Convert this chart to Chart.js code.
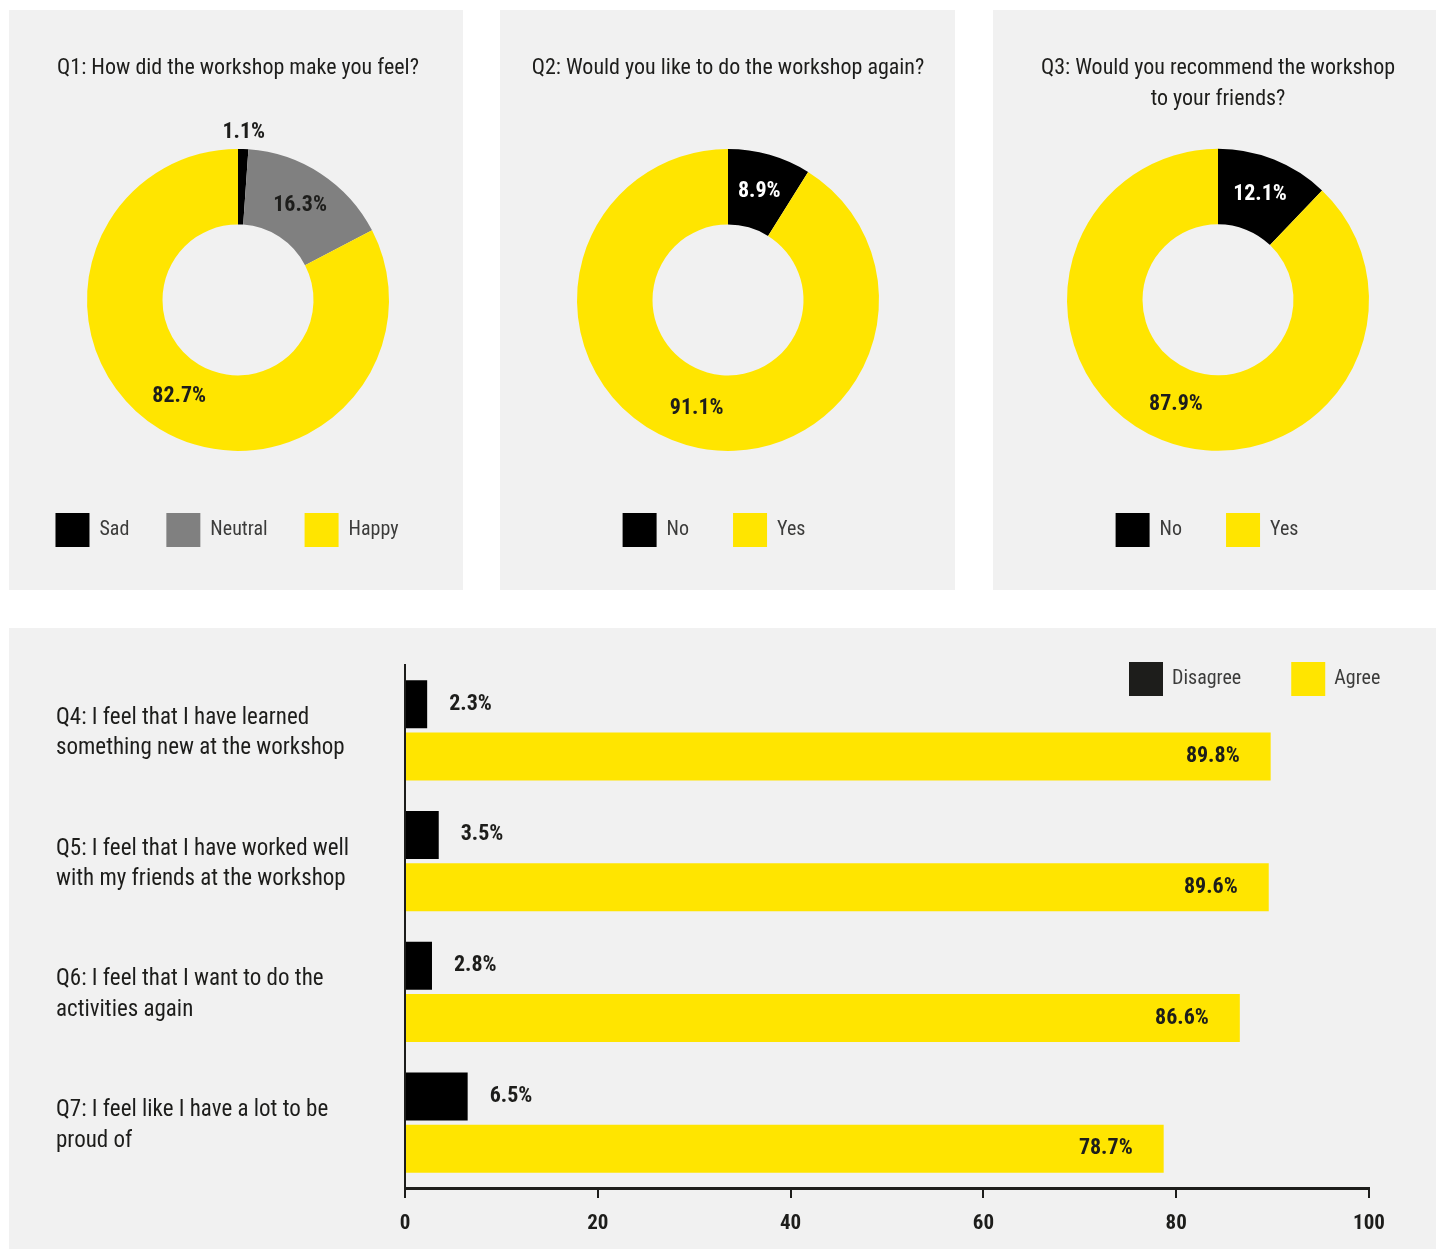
<!DOCTYPE html>
<html>
<head>
<meta charset="utf-8">
<script src="https://cdn.jsdelivr.net/npm/chart.js@4"></script>
<style>
  body { margin: 0; background: #fff; width: 1436px; height: 1249px; position: relative; overflow: hidden; }
  .panel { position: absolute; background: #f1f1f1; }
  #p1 { left: 9px; top: 10px; width: 454px; height: 580px; }
  #p2 { left: 500px; top: 10px; width: 455px; height: 580px; }
  #p3 { left: 993px; top: 10px; width: 450px; height: 580px; }
  #p4 { left: 9px; top: 628px; width: 1427px; height: 621px; }
  canvas { display: block; }
</style>
</head>
<body>
<div class="panel" id="p1"><canvas id="q1" width="454" height="580"></canvas></div>
<div class="panel" id="p2"><canvas id="q2" width="455" height="580"></canvas></div>
<div class="panel" id="p3"><canvas id="q3" width="450" height="580"></canvas></div>
<div class="panel" id="p4"><canvas id="q47" width="1427" height="621"></canvas></div>
<script>
const q1Labels = ['Sad', 'Neutral', 'Happy'];
const q1Values = [1.1, 16.3, 82.7];
const q2Labels = ['No', 'Yes'];
const q2Values = [8.9, 91.1];
const q3Labels = ['No', 'Yes'];
const q3Values = [12.1, 87.9];

const statements = [
  ['Q4: I feel that I have learned', 'something new at the workshop'],
  ['Q5: I feel that I have worked well', 'with my friends at the workshop'],
  ['Q6: I feel that I want to do the', 'activities again'],
  ['Q7: I feel like I have a lot to be', 'proud of']
];
const disagreeValues = [2.3, 3.5, 2.8, 6.5];
const agreeValues = [89.8, 89.6, 86.6, 78.7];
const xTicks = [0, 20, 40, 60, 80, 100];

// Roboto squeezed with font-stretch stands in for the condensed face
const FONT = 'Roboto, "Open Sans", sans-serif';
const REG = 'condensed';
const BOLD = 'bold condensed';
const INK = '#1d1d1b';
const YELLOW = '#ffe500';

// percentage labels on the donut rings; tiny slices get theirs outside
const sliceLabels = {
  id: 'sliceLabels',
  afterDatasetsDraw(chart) {
    const ctx = chart.ctx;
    const meta = chart.getDatasetMeta(0);
    const values = chart.data.datasets[0].data;
    ctx.save();
    ctx.font = BOLD + ' 22px ' + FONT;
    ctx.textAlign = 'center';
    ctx.textBaseline = 'middle';
    meta.data.forEach((arc, i) => {
      const p = arc.getProps(['x', 'y', 'startAngle', 'endAngle', 'innerRadius', 'outerRadius'], true);
      const mid = (p.startAngle + p.endAngle) / 2;
      const small = values[i] < 5;
      const r = small ? p.outerRadius + 17 : (p.innerRadius + p.outerRadius) / 2;
      const bg = chart.data.datasets[0].backgroundColor[i];
      ctx.fillStyle = (!small && bg === '#000000') ? '#ffffff' : INK;
      ctx.fillText(values[i] + '%', p.x + Math.cos(mid) * r, p.y + Math.sin(mid) * r);
    });
    ctx.restore();
  }
};

// the legends in the reference sit a little left of centre
const legendNudge = {
  id: 'legendNudge',
  afterLayout(chart, args, opts) {
    chart.legend.left -= opts.dx;
    chart.legend.right -= opts.dx;
  }
};

function makeDonut(id, title, labels, values, colors, opt) {
  new Chart(document.getElementById(id), {
    type: 'doughnut',
    data: {
      labels,
      datasets: [{ data: values, backgroundColor: colors, borderWidth: 0 }]
    },
    options: {
      responsive: false,
      animation: false,
      radius: 151,
      cutout: '50%',
      layout: { padding: { bottom: 33, left: opt.shift } },
      plugins: {
        title: {
          display: true,
          text: title,
          color: INK,
          font: { family: FONT, size: 22, weight: REG, lineHeight: 1.4 },
          padding: { top: 43, bottom: opt.titleGap }
        },
        legend: {
          position: 'bottom',
          labels: {
            boxWidth: 34,
            boxHeight: 34,
            padding: opt.gap,
            color: '#3c3c3b',
            font: { family: FONT, size: 20, weight: REG }
          }
        },
        legendNudge: { dx: opt.dx },
        tooltip: { enabled: false }
      }
    },
    plugins: [sliceLabels, legendNudge]
  });
}

makeDonut('q1', 'Q1: How did the workshop make you feel?', q1Labels, q1Values,
  ['#000000', '#808080', YELLOW], { titleGap: 40, shift: 4, gap: 37, dx: 11 });
makeDonut('q2', 'Q2: Would you like to do the workshop again?', q2Labels, q2Values,
  ['#000000', YELLOW], { titleGap: 47, shift: 1, gap: 44, dx: 14 });
makeDonut('q3', ['Q3: Would you recommend the workshop', 'to your friends?'], q3Labels, q3Values,
  ['#000000', YELLOW], { titleGap: 16, shift: 0, gap: 44, dx: 11 });

const barLabels = {
  id: 'barLabels',
  afterDatasetsDraw(chart) {
    const ctx = chart.ctx;
    ctx.save();
    ctx.font = BOLD + ' 22px ' + FONT;
    ctx.textBaseline = 'middle';
    ctx.fillStyle = INK;
    chart.data.datasets.forEach((ds, di) => {
      chart.getDatasetMeta(di).data.forEach((bar, i) => {
        const txt = ds.data[i] + '%';
        if (di === 0) {
          ctx.textAlign = 'left';
          ctx.fillText(txt, bar.x + 22, bar.y);
        } else {
          ctx.textAlign = 'right';
          ctx.fillText(txt, bar.x - 31, bar.y);
        }
      });
    });
    ctx.restore();
  }
};

// legend sits in the top right corner, over the plot area
const cornerLegend = {
  id: 'cornerLegend',
  afterDraw(chart) {
    const ctx = chart.ctx;
    const area = chart.chartArea;
    ctx.save();
    ctx.font = REG + ' 20px ' + FONT;
    ctx.textBaseline = 'middle';
    ctx.textAlign = 'left';
    let x = area.right - 240;
    const top = area.top - 3;
    chart.data.datasets.forEach(ds => {
      ctx.fillStyle = ds.legendColor || ds.backgroundColor;
      ctx.fillRect(x, top, 34, 34);
      ctx.fillStyle = '#3c3c3b';
      ctx.fillText(ds.label, x + 43, top + 17);
      x += 43 + ctx.measureText(ds.label).width + 50;
    });
    ctx.restore();
  }
};

new Chart(document.getElementById('q47'), {
  type: 'bar',
  data: {
    labels: statements,
    datasets: [
      { label: 'Disagree', data: disagreeValues, backgroundColor: '#000000', legendColor: INK },
      { label: 'Agree', data: agreeValues, backgroundColor: YELLOW }
    ]
  },
  options: {
    indexAxis: 'y',
    responsive: false,
    animation: false,
    categoryPercentage: 0.8,
    barPercentage: 0.92,
    layout: { padding: { top: 37, left: 47, right: 67, bottom: 0 } },
    scales: {
      x: {
        min: 0,
        max: 100,
        afterBuildTicks: s => { s.ticks = xTicks.map(v => ({ value: v })); },
        afterFit: s => { s.height = 61; },
        grid: { drawOnChartArea: false, tickLength: 10, color: INK, lineWidth: 2 },
        border: { color: INK, width: 3 },
        ticks: { color: INK, padding: 13, font: { family: FONT, size: 21, weight: BOLD } }
      },
      y: {
        afterFit: s => { s.width = 349; },
        grid: { drawOnChartArea: false, drawTicks: false, color: 'rgba(0,0,0,0)' },
        border: { color: INK, width: 2 },
        ticks: { crossAlign: 'far', labelOffset: 3, color: INK, padding: 0, font: { family: FONT, size: 23, weight: REG, lineHeight: 1.32 } }
      }
    },
    plugins: {
      legend: { display: false },
      tooltip: { enabled: false }
    }
  },
  plugins: [barLabels, cornerLegend]
});
</script>
</body>
</html>
